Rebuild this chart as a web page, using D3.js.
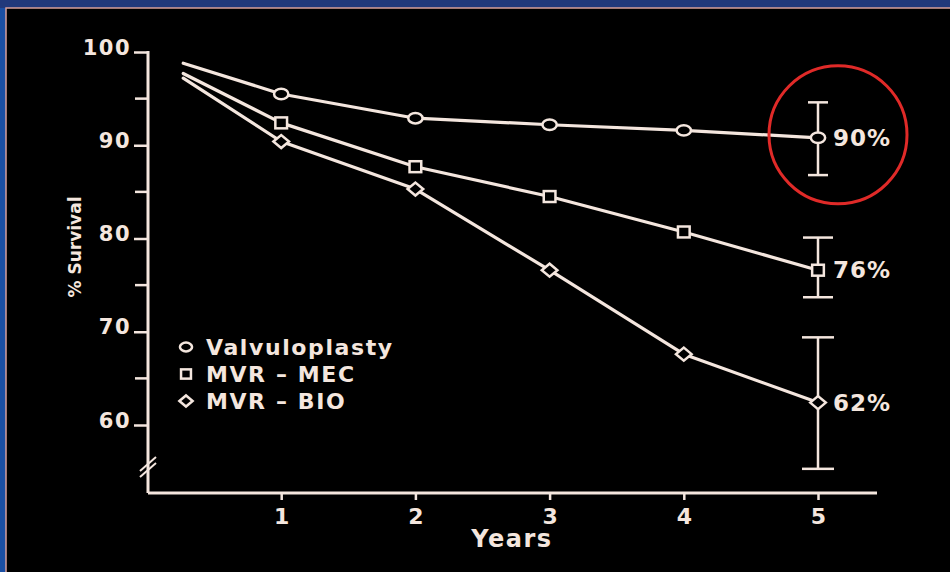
<!DOCTYPE html>
<html>
<head>
<meta charset="utf-8">
<script src="https://cdn.jsdelivr.net/npm/d3@7"></script>
<style>
    body { margin: 0; background: #000; }
    svg { display: block; }
    text { font-family: "DejaVu Sans", sans-serif; font-weight: bold; fill: #f4e6de; }
</style>
</head>
<body>
<svg width="950" height="572"></svg>
<script>
/* survival data */
var years = [0.27, 1, 2, 3, 4, 5];
var seriesNames = ["Valvuloplasty", "MVR – MEC", "MVR – BIO"];
var valvuloplasty = [98.8, 95.5, 92.9, 92.2, 91.6, 90.8];
var mvrMec = [97.7, 92.4, 87.7, 84.5, 80.7, 76.6];
var mvrBio = [97.2, 90.4, 85.3, 76.6, 67.6, 62.4];
var errLow = [86.8, 73.7, 55.3];
var errHigh = [94.6, 80.1, 69.4];
var endLabels = ["90%", "76%", "62%"];
var yTicks = [60, 70, 80, 90, 100];
var yMinorTicks = [65, 75, 85, 95];
var xTicks = [1, 2, 3, 4, 5];

var ink = "#f4e6de";
var svg = d3.select("svg");

/* slide frame */
svg.append("rect").attr("width", 950).attr("height", 572).attr("fill", "#1b4fa3");
svg.append("rect").attr("width", 950).attr("height", 8).attr("fill", "#22397b");
svg.append("rect").attr("x", 6).attr("y", 8).attr("width", 950).attr("height", 572)
    .attr("fill", "#000").attr("stroke", "#d9a09a").attr("stroke-width", 1.5);

var x = d3.scaleLinear().domain([0, 5]).range([147, 818]),
    y = d3.scaleLinear().domain([60, 100]).range([425, 52]);

var axisY = 493, axisX = 148;

/* y axis */
var gy = svg.append("g").attr("transform", "translate(" + axisX + ",0)");
gy.call(d3.axisLeft(y).tickValues(yTicks).tickSize(14).tickPadding(3).tickFormat(d3.format("d")));
gy.select(".domain").remove();
gy.selectAll(".tick line").attr("stroke", ink).attr("stroke-width", 2.5);
gy.selectAll(".tick text").attr("font-size", 21).attr("dy", "0.1em").attr("fill", ink)
    .style("letter-spacing", "1.5px")
    .style("font-family", "DejaVu Sans").style("font-weight", "bold");
gy.selectAll(".minor").data(yMinorTicks).enter().append("line")
    .attr("x1", -13).attr("x2", 0)
    .attr("y1", function (d) { return y(d); }).attr("y2", function (d) { return y(d); })
    .attr("stroke", ink).attr("stroke-width", 2.5);
gy.append("line").attr("x1", 0).attr("x2", 0).attr("y1", y(100) - 1).attr("y2", axisY)
    .attr("stroke", ink).attr("stroke-width", 3);
/* axis break */
[-3, 3].forEach(function (o) {
    gy.append("line").attr("x1", -8).attr("x2", 8)
        .attr("y1", 474 + o).attr("y2", 460 + o)
        .attr("stroke", ink).attr("stroke-width", 2);
});

/* x axis */
var gx = svg.append("g").attr("transform", "translate(0," + axisY + ")");
gx.call(d3.axisBottom(x).tickValues(xTicks).tickSize(7).tickPadding(8).tickFormat(d3.format("d")));
gx.select(".domain").remove();
gx.selectAll(".tick line").attr("stroke", ink).attr("stroke-width", 2.5);
gx.selectAll(".tick text").attr("font-size", 22).attr("fill", ink)
    .style("font-family", "DejaVu Sans").style("font-weight", "bold");
gx.append("line").attr("x1", axisX).attr("x2", 877).attr("y1", 0).attr("y2", 0)
    .attr("stroke", ink).attr("stroke-width", 3);

svg.append("text").attr("x", 512).attr("y", 547).attr("text-anchor", "middle")
    .attr("font-size", 24).style("letter-spacing", "1.5px").text("Years");
svg.append("text").attr("transform", "translate(81,247)rotate(-90)")
    .attr("text-anchor", "middle").attr("font-size", 17).text("% Survival");

/* lines */
var allSeries = [valvuloplasty, mvrMec, mvrBio];
var line = d3.line()
    .x(function (d, i) { return x(years[i]); })
    .y(function (d) { return y(d); });

/* error bars at year 5 */
var capWidth = [20, 30, 32];
allSeries.forEach(function (s, k) {
    var cx = x(years[years.length - 1]);
    var eb = svg.append("g").attr("stroke", ink).attr("stroke-width", 2.5);
    eb.append("line").attr("x1", cx).attr("x2", cx).attr("y1", y(errHigh[k])).attr("y2", y(errLow[k]));
    [errHigh[k], errLow[k]].forEach(function (v) {
        eb.append("line").attr("x1", cx - capWidth[k] / 2).attr("x2", cx + capWidth[k] / 2)
            .attr("y1", y(v)).attr("y2", y(v));
    });
});

allSeries.forEach(function (s) {
    svg.append("path").datum(s).attr("d", line)
        .attr("fill", "none").attr("stroke", ink).attr("stroke-width", 3.2)
        .attr("stroke-linejoin", "round").attr("stroke-linecap", "round");
});

/* markers */
function drawMarker(g, kind, cx, cy, sz) {
    if (kind === 0) {
        g.append("ellipse").attr("cx", cx).attr("cy", cy).attr("rx", sz * 0.55).attr("ry", sz * 0.4);
    } else if (kind === 1) {
        g.append("rect").attr("x", cx - sz * 0.45).attr("y", cy - sz * 0.42)
            .attr("width", sz * 0.9).attr("height", sz * 0.84);
    } else {
        g.append("path").attr("d", "M" + (cx - sz * 0.6) + "," + cy + "L" + cx + "," + (cy - sz * 0.5) +
            "L" + (cx + sz * 0.6) + "," + cy + "L" + cx + "," + (cy + sz * 0.5) + "Z");
    }
}
var mk = svg.append("g").attr("fill", "#000").attr("stroke", ink).attr("stroke-width", 2.5);
allSeries.forEach(function (s, k) {
    s.forEach(function (v, i) {
        if (i === 0) return;
        drawMarker(mk, k, x(years[i]), y(v), 13);
    });
});

/* end labels */
allSeries.forEach(function (s, k) {
    var n = s.length - 1;
    svg.append("text").attr("x", x(years[n]) + 15).attr("y", y(s[n]) + 8)
        .attr("font-size", 23).style("letter-spacing", "1px").text(endLabels[k]);
});

/* red highlight circle */
svg.append("circle").attr("cx", x(5) + 20).attr("cy", y(valvuloplasty[5]) - 3).attr("r", 69)
    .attr("fill", "none").attr("stroke", "#e02a28").attr("stroke-width", 3);

/* legend */
var lg = svg.append("g").attr("transform", "translate(186,347)");
seriesNames.forEach(function (name, k) {
    var row = lg.append("g").attr("transform", "translate(0," + k * 27 + ")");
    var m = row.append("g").attr("fill", "#000").attr("stroke", ink).attr("stroke-width", 2.5);
    drawMarker(m, k, 0, 0, 11);
    row.append("text").attr("x", 20).attr("y", 8).attr("font-size", 22)
        .style("letter-spacing", "1.6px").text(name);
});
</script>
</body>
</html>
